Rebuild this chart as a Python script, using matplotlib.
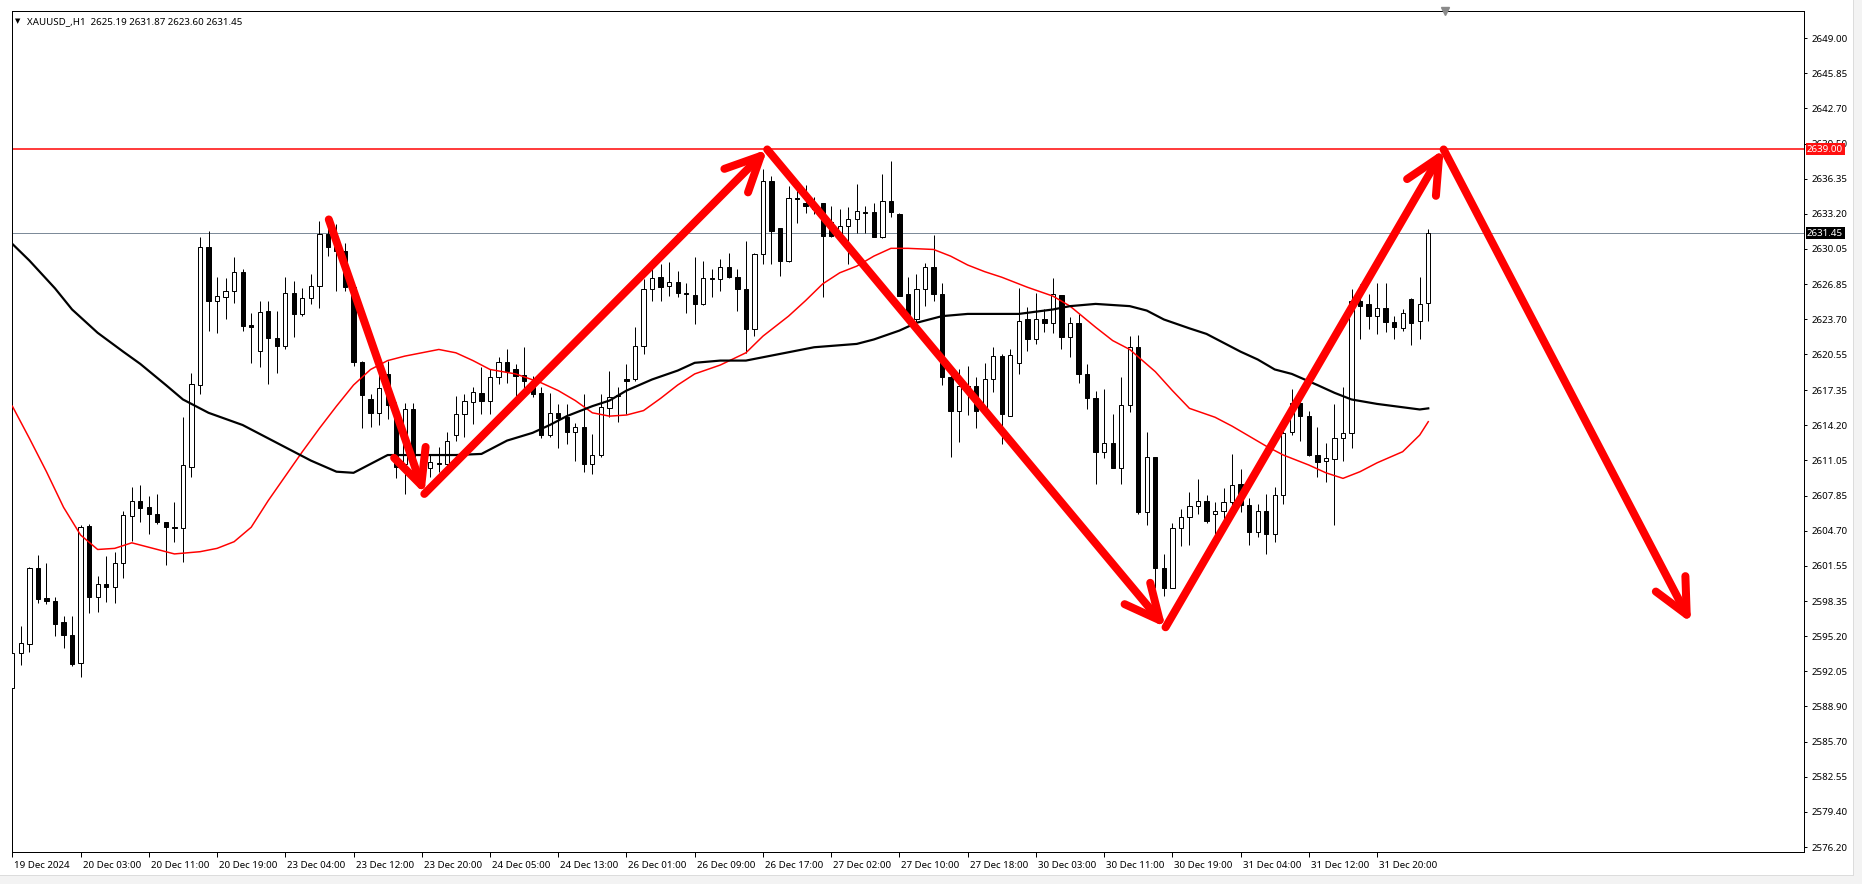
import matplotlib.pyplot as plt
import numpy as np
from matplotlib.transforms import ScaledTranslation
from matplotlib.lines import Line2D
from matplotlib.patches import Rectangle

plt.rcParams['font.family'] = ['Noto Sans', 'DejaVu Sans']

# --- XAUUSD H1 candles, bar 0 = 19 Dec 19:00 ---
opens = [2590.5, 2593.7, 2594.5, 2601.3, 2598.6, 2598.4, 2596.5, 2595.3, 2592.8, 2605.1,
         2598.7, 2599.9, 2599.6, 2601.8, 2606.0, 2607.4, 2606.8, 2606.2, 2605.5, 2605.0,
         2604.9, 2610.4, 2617.8, 2630.2, 2625.4, 2625.7, 2626.3, 2628.0, 2623.2, 2620.9,
         2624.5, 2622.0, 2621.3, 2626.1, 2624.2, 2625.6, 2626.7, 2631.4, 2630.2, 2629.9,
         2626.6, 2619.9, 2616.5, 2615.3, 2618.8, 2614.8, 2610.7, 2615.6, 2611.0, 2610.3,
         2610.8, 2610.7, 2613.3, 2615.2, 2616.3, 2617.1, 2616.4, 2618.5, 2619.9, 2619.2,
         2618.7, 2618.2, 2617.1, 2613.3, 2615.3, 2614.9, 2613.6, 2614.0, 2610.7, 2611.5,
         2615.7, 2616.8, 2618.3, 2618.3, 2621.3, 2626.4, 2627.5, 2626.7, 2627.1, 2626.1,
         2625.9, 2625.1, 2627.4, 2627.3, 2628.4, 2627.5, 2626.4, 2622.8, 2629.6, 2636.2,
         2631.9, 2629.0, 2634.6, 2634.2, 2634.1, 2634.2, 2632.5, 2631.2, 2632.1, 2632.7,
         2633.4, 2633.4, 2631.1, 2634.4, 2633.2, 2626.0, 2623.7, 2626.4, 2628.4, 2626.0,
         2618.5, 2615.5, 2617.7, 2617.7, 2615.5, 2618.3, 2620.4, 2615.0, 2619.8, 2623.7,
         2621.9, 2623.7, 2623.4, 2625.9, 2622.1, 2623.4, 2618.8, 2616.6, 2611.8, 2612.6,
         2610.3, 2616.0, 2621.2, 2606.4, 2611.3, 2601.3, 2599.5, 2604.9, 2605.9, 2606.9,
         2607.4, 2606.2, 2606.5, 2607.3, 2608.9, 2607.0, 2604.6, 2606.5, 2604.4, 2607.9,
         2613.6, 2616.2, 2615.0, 2611.5, 2611.0, 2611.1, 2613.0, 2613.5, 2625.4, 2625.1,
         2624.0, 2624.7, 2623.5, 2622.9, 2625.5, 2623.6, 2625.19]
highs = [2598.4, 2596.1, 2601.4, 2602.5, 2601.8, 2598.7, 2597.0, 2597.0, 2605.2, 2605.3,
         2600.6, 2602.4, 2602.8, 2606.5, 2608.6, 2608.8, 2607.8, 2608.0, 2605.5, 2607.3,
         2614.9, 2618.9, 2631.1, 2631.7, 2627.5, 2627.4, 2629.3, 2628.2, 2624.3, 2625.4,
         2625.4, 2624.5, 2627.5, 2627.2, 2626.5, 2627.8, 2632.6, 2632.6, 2632.3, 2630.6,
         2626.7, 2620.0, 2617.0, 2619.6, 2620.0, 2616.3, 2616.2, 2616.2, 2611.3, 2611.6,
         2612.2, 2613.6, 2616.8, 2617.0, 2617.6, 2619.4, 2619.2, 2620.3, 2621.0, 2619.7,
         2621.2, 2618.6, 2617.6, 2617.1, 2616.1, 2616.1, 2614.4, 2617.0, 2613.4, 2617.0,
         2619.1, 2617.6, 2619.7, 2623.0, 2627.3, 2628.7, 2628.7, 2628.9, 2628.1, 2627.0,
         2629.3, 2629.0, 2628.2, 2629.1, 2629.7, 2628.2, 2630.8, 2629.7, 2637.2, 2636.6,
         2631.9, 2635.7, 2635.5, 2635.8, 2634.7, 2634.2, 2633.9, 2633.6, 2633.8, 2635.9,
         2633.9, 2634.2, 2636.8, 2638.0, 2633.3, 2627.5, 2627.8, 2628.8, 2631.3, 2627.0,
         2619.4, 2619.2, 2619.5, 2618.5, 2619.8, 2621.2, 2620.6, 2621.0, 2626.5, 2624.8,
         2626.1, 2624.6, 2627.4, 2625.9, 2623.9, 2624.2, 2619.7, 2617.3, 2617.4, 2615.2,
         2618.5, 2622.2, 2622.3, 2613.6, 2611.3, 2602.6, 2605.4, 2606.6, 2608.2, 2609.3,
         2607.9, 2607.3, 2608.5, 2611.6, 2610.2, 2607.6, 2607.1, 2608.0, 2608.6, 2613.7,
         2617.4, 2616.7, 2615.5, 2614.0, 2612.6, 2616.1, 2617.6, 2626.4, 2626.9, 2626.0,
         2627.0, 2627.0, 2624.0, 2624.6, 2625.6, 2627.5, 2631.87]
lows = [2587.4, 2592.6, 2593.8, 2598.2, 2598.1, 2595.2, 2594.1, 2592.5, 2591.5, 2597.3,
        2597.4, 2598.3, 2598.2, 2600.4, 2603.8, 2605.5, 2604.4, 2605.3, 2601.6, 2603.7,
        2601.9, 2609.5, 2617.0, 2622.7, 2622.5, 2623.7, 2625.2, 2622.7, 2619.8, 2619.4,
        2617.9, 2618.9, 2621.0, 2622.1, 2624.0, 2625.1, 2624.7, 2629.4, 2626.3, 2626.3,
        2619.5, 2613.9, 2614.0, 2614.2, 2614.7, 2609.4, 2608.0, 2609.5, 2609.5, 2609.5,
        2610.0, 2609.8, 2612.8, 2613.1, 2614.3, 2615.2, 2615.2, 2617.9, 2618.0, 2616.7,
        2617.0, 2616.7, 2613.0, 2613.1, 2612.1, 2612.5, 2611.0, 2610.0, 2609.8, 2611.3,
        2614.9, 2614.5, 2615.2, 2618.2, 2620.6, 2625.4, 2625.4, 2625.8, 2625.7, 2624.3,
        2623.3, 2625.0, 2625.7, 2626.3, 2627.4, 2624.5, 2620.7, 2622.2, 2628.7, 2628.7,
        2627.6, 2628.9, 2632.4, 2633.3, 2633.2, 2625.7, 2631.1, 2631.1, 2628.7, 2631.5,
        2631.5, 2631.1, 2631.0, 2632.9, 2625.8, 2623.4, 2623.1, 2624.9, 2625.4, 2617.8,
        2611.3, 2612.7, 2615.1, 2613.9, 2615.4, 2617.2, 2612.5, 2615.0, 2618.8, 2620.9,
        2621.5, 2622.6, 2622.5, 2621.0, 2620.3, 2618.0, 2615.6, 2608.9, 2611.2, 2610.3,
        2608.9, 2615.4, 2606.2, 2605.2, 2599.5, 2598.8, 2599.5, 2603.3, 2603.4, 2606.2,
        2605.4, 2604.4, 2605.3, 2606.2, 2606.4, 2603.4, 2604.1, 2602.6, 2603.7, 2607.1,
        2613.3, 2612.8, 2611.4, 2609.5, 2609.1, 2605.2, 2611.0, 2612.1, 2621.9, 2622.8,
        2622.4, 2622.6, 2621.9, 2622.7, 2621.4, 2621.9, 2623.60]
closes = [2593.7, 2594.6, 2601.3, 2598.5, 2598.4, 2596.3, 2595.3, 2592.7, 2605.0, 2598.7,
          2599.9, 2599.6, 2601.8, 2606.1, 2607.4, 2606.7, 2606.2, 2605.5, 2605.0, 2604.9,
          2610.6, 2617.9, 2630.2, 2625.4, 2625.8, 2626.3, 2628.0, 2623.1, 2623.0, 2624.4,
          2622.0, 2621.3, 2626.1, 2624.2, 2625.6, 2626.7, 2631.4, 2630.2, 2629.9, 2626.6,
          2619.9, 2616.9, 2615.3, 2617.5, 2616.0, 2610.4, 2615.6, 2610.7, 2610.4, 2610.9,
          2610.7, 2612.8, 2615.2, 2616.4, 2617.2, 2616.4, 2618.5, 2619.9, 2619.1, 2618.6,
          2618.2, 2617.0, 2613.3, 2615.3, 2614.8, 2613.6, 2614.0, 2610.7, 2611.5, 2615.8,
          2616.7, 2616.9, 2618.2, 2621.3, 2626.4, 2627.4, 2626.6, 2627.1, 2626.1, 2626.0,
          2625.1, 2627.4, 2627.3, 2628.4, 2627.5, 2626.4, 2622.8, 2629.6, 2636.2, 2631.7,
          2629.0, 2634.6, 2634.5, 2633.9, 2633.6, 2631.2, 2631.2, 2632.1, 2632.7, 2633.5,
          2633.3, 2631.1, 2634.4, 2633.4, 2625.8, 2623.6, 2626.4, 2628.4, 2626.0, 2618.5,
          2615.5, 2617.7, 2617.6, 2615.5, 2618.3, 2620.4, 2615.2, 2620.5, 2623.6, 2621.9,
          2623.7, 2623.4, 2626.0, 2622.1, 2623.4, 2618.8, 2616.6, 2611.8, 2612.6, 2610.3,
          2616.0, 2621.2, 2606.4, 2611.3, 2601.3, 2599.5, 2604.9, 2605.9, 2606.9, 2607.4,
          2605.6, 2606.5, 2607.3, 2608.8, 2607.0, 2604.6, 2606.5, 2604.4, 2607.9, 2613.5,
          2616.2, 2615.0, 2611.5, 2610.9, 2611.2, 2613.0, 2613.5, 2625.4, 2624.9, 2624.0,
          2624.7, 2623.5, 2623.0, 2624.3, 2623.4, 2625.1, 2631.45]

# moving averages (bar index, price)
red_ma_x = [0, 2, 4, 6, 8, 10, 12, 14, 16, 19, 22, 24, 26, 28, 30, 32, 34, 36, 38, 40,
            42, 44, 46, 48, 50, 52, 54, 56, 59, 62, 64, 66, 68, 70, 72, 74, 76, 78, 80, 83,
            86, 88, 91, 93, 95, 97, 99, 101, 103, 105, 108, 110, 112, 114, 116, 119, 122, 124, 127, 129,
            131, 134, 136, 138, 141, 143, 145, 147, 149, 152, 154, 156, 158, 160, 163, 165, 166]
red_ma_y = [2615.9, 2613.0, 2610.0, 2606.8, 2604.3, 2603.0, 2603.1, 2603.6, 2603.2, 2602.6,
            2602.8, 2603.1, 2603.7, 2605.0, 2607.4, 2609.6, 2611.8, 2613.9, 2615.9, 2617.8,
            2619.2, 2620.0, 2620.4, 2620.7, 2621.0, 2620.7, 2620.0, 2619.2, 2618.8, 2618.0,
            2617.3, 2616.4, 2615.3, 2615.0, 2615.1, 2615.5, 2616.6, 2617.8, 2618.8, 2619.6,
            2620.7, 2622.2, 2624.0, 2625.4, 2626.9, 2627.9, 2628.5, 2629.4, 2630.1, 2630.1,
            2630.0, 2629.4, 2628.6, 2628.0, 2627.5, 2626.6, 2625.8, 2624.9, 2623.0, 2621.8,
            2621.0, 2619.0, 2617.3, 2615.7, 2614.9, 2614.1, 2613.2, 2612.3, 2611.5, 2610.6,
            2609.9, 2609.4, 2610.0, 2610.8, 2611.8, 2613.3, 2614.5]
black_ma_x = [0, 2, 5, 7, 10, 13, 15, 18, 20, 23, 27, 30, 32, 35, 38, 40, 42, 44, 47, 52,
              55, 58, 61, 63, 65, 68, 70, 72, 75, 78, 80, 83, 86, 90, 94, 99, 101, 104, 106, 109,
              112, 116, 118, 122, 124, 127, 131, 133, 135, 138, 140, 142, 144, 146, 148, 150, 153, 155, 157, 160,
              163, 165, 166]
black_ma_y = [2630.5, 2629.0, 2626.5, 2624.6, 2622.5, 2620.8, 2619.7, 2617.8, 2616.5, 2615.3,
              2614.2, 2613.0, 2612.2, 2611.0, 2610.0, 2609.9, 2610.7, 2611.5, 2611.5, 2611.5,
              2611.6, 2612.8, 2613.5, 2614.2, 2615.0, 2615.9, 2616.4, 2617.3, 2618.3, 2619.1,
              2619.8, 2620.0, 2620.0, 2620.6, 2621.2, 2621.5, 2621.9, 2622.7, 2623.4, 2624.0,
              2624.2, 2624.2, 2624.2, 2624.6, 2624.9, 2625.1, 2624.9, 2624.5, 2623.7, 2622.9,
              2622.4, 2621.6, 2620.8, 2620.1, 2619.2, 2618.8, 2617.8, 2617.1, 2616.5, 2616.1,
              2615.8, 2615.6, 2615.7]

# hand-drawn zigzag arrows (bar index, price)
arrow_x = [37.1, 48.3, 88.5, 135.2, 167.8, 196.8]
arrow_y = [2632.7, 2608.0, 2639.0, 2596.0, 2639.0, 2596.4]

resistance = 2639.00
bid = 2631.45
symbol_text = "XAUUSD_,H1  2625.19 2631.87 2623.60 2631.45"

time_labels = ["19 Dec 2024", "20 Dec 03:00", "20 Dec 11:00", "20 Dec 19:00", "23 Dec 04:00",
               "23 Dec 12:00", "23 Dec 20:00", "24 Dec 05:00", "24 Dec 13:00", "26 Dec 01:00",
               "26 Dec 09:00", "26 Dec 17:00", "27 Dec 02:00", "27 Dec 10:00", "27 Dec 18:00",
               "30 Dec 03:00", "30 Dec 11:00", "30 Dec 19:00", "31 Dec 04:00", "31 Dec 12:00",
               "31 Dec 20:00"]
price_ticks = [2649.00, 2645.85, 2642.70, 2639.50, 2636.35, 2633.20, 2630.05, 2626.85,
               2623.70, 2620.55, 2617.35, 2614.20, 2611.05, 2607.85, 2604.70, 2601.55,
               2598.35, 2595.20, 2592.05, 2588.90, 2585.70, 2582.55, 2579.40, 2576.20]

# --- figure ---
W, H = 1862, 884
PT = 0.72  # points per pixel at dpi 100
fig = plt.figure(figsize=(W / 100, H / 100), dpi=100)
left_px, right_px, top_px, bottom_px = 11.5, 1804, 11, 851.5
ax = fig.add_axes([left_px / W, 1 - bottom_px / H,
                   (right_px - left_px) / W, (bottom_px - top_px) / H])

o = np.array(opens)
h = np.array(highs)
l = np.array(lows)
c = np.array(closes)
idx = np.arange(len(o))
up = c >= o
body_lo = np.minimum(o, c)
body_h = np.abs(c - o)

ax.axhline(resistance, color='red', lw=1.5 * PT, zorder=1)
ax.axhline(bid, color='#7d8b99', lw=1.0 * PT, zorder=1)

ax.vlines(idx, l, h, color='black', lw=1.0 * PT, zorder=2)
ax.bar(idx[up], body_h[up], bottom=body_lo[up], width=0.5, facecolor='white',
       edgecolor='black', linewidth=1.0 * PT, zorder=3)
ax.bar(idx[~up], body_h[~up], bottom=body_lo[~up], width=0.5, facecolor='black',
       edgecolor='black', linewidth=1.0 * PT, zorder=3)

ax.plot(red_ma_x, red_ma_y, color='red', lw=1.5 * PT, zorder=4)
ax.plot(black_ma_x, black_ma_y, color='black', lw=2.2 * PT, zorder=4)

for k in range(len(arrow_x) - 1):
    ax.annotate('', xy=(arrow_x[k + 1], arrow_y[k + 1]), xytext=(arrow_x[k], arrow_y[k]),
                arrowprops=dict(arrowstyle='->,head_length=1.25,head_width=0.6',
                                color='red', lw=8 * PT, shrinkA=0, shrinkB=0,
                                capstyle='round', joinstyle='round', mutation_scale=20),
                zorder=6)

ax.set_xlim(-0.1, 210.05)
ax.set_ylim(2575.82, 2651.46)

# axes styling
for s in ax.spines.values():
    s.set_color('black')
    s.set_linewidth(1.0 * PT)

ax.yaxis.tick_right()
ax.set_yticks(price_ticks)
ax.set_yticklabels([f"{p:.2f}" for p in price_ticks])
ax.tick_params(axis='y', direction='out', length=3 * PT, width=1.0 * PT,
               pad=4.5 * PT, labelsize=7, colors='black')

ax.set_xticks(range(0, 8 * len(time_labels), 8))
ax.set_xticklabels(time_labels, ha='left')
ax.tick_params(axis='x', direction='out', length=5 * PT, width=1.0 * PT,
               pad=4 * PT, labelsize=7, colors='black')
shift = ScaledTranslation(2 / 100, 0, fig.dpi_scale_trans)
for lbl in ax.get_xticklabels():
    lbl.set_transform(lbl.get_transform() + shift)

# price tags on the right scale
ytr = ax.get_yaxis_transform()
for price, bg in [(resistance, '#ff1010'), (bid, 'black')]:
    ax.text(1.0, price, f"{price:.2f}", transform=ytr + ScaledTranslation(3 / 100, 0, fig.dpi_scale_trans),
            ha='left', va='center', fontsize=7, color='white', clip_on=False, zorder=10,
            bbox=dict(boxstyle='square,pad=0.15', facecolor=bg, edgecolor='none'))

# chart shift marker at the top
ax.plot([168], [2651.46], marker='v', color='#8a8a8a', markersize=6, clip_on=False, zorder=7)

# symbol line top-left
fig.text(15 / W, 1 - 21.5 / H, "\u25bc", fontsize=5, ha='left', va='center',
         family=['DejaVu Sans'])
fig.text(27 / W, 1 - 21.5 / H, symbol_text, fontsize=7, ha='left', va='center')

# window edges
fig.add_artist(Rectangle((1853 / W, 0), 1 - 1853 / W, 1, transform=fig.transFigure,
                         facecolor='#f3f3f3', edgecolor='none'))
fig.add_artist(Rectangle((0, 0), 1, (H - 875) / H, transform=fig.transFigure,
                         facecolor='#f3f3f3', edgecolor='none'))
fig.add_artist(Line2D([1853 / W, 1853 / W], [(H - 875) / H, 1], transform=fig.transFigure,
                      color='#dcdcdc', lw=1.0 * PT))
fig.add_artist(Line2D([0, 1853 / W], [(H - 875) / H, (H - 875) / H], transform=fig.transFigure,
                      color='#dcdcdc', lw=1.0 * PT))

fig.savefig("out.png", dpi=100)
